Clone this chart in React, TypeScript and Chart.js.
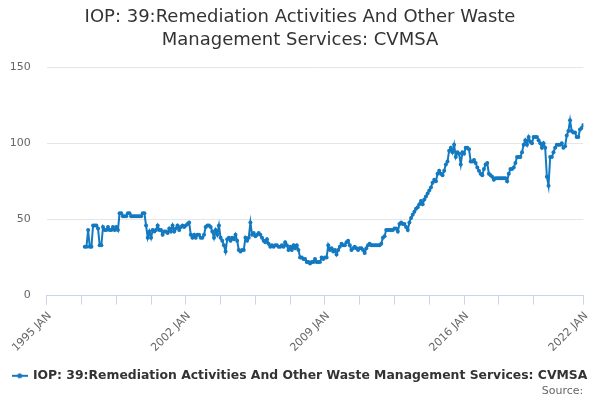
import { useEffect, useRef } from "react";
import { Chart, registerables } from "chart.js";

Chart.register(...registerables);

const TITLE_LINES = [
  "IOP: 39:Remediation Activities And Other Waste",
  "Management Services: CVMSA",
];
const SERIES_NAME =
  "IOP: 39:Remediation Activities And Other Waste Management Services: CVMSA";
const SOURCE_TEXT = "Source:";

// x axis is measured in months since 1995 JAN
const AXIS_START_YEAR = 1995;
const SERIES_START_YEAR = 1996;
const SERIES_START_MONTH = 12; // December

const X_TICK_MONTHS = [0, 21, 42, 63, 84, 105, 126, 147, 168, 189, 210, 231, 252, 273, 294, 324];
const X_TICK_LABELS = [
  "1995 JAN", "", "", "", "2002 JAN", "", "", "", "2009 JAN", "", "", "", "2016 JAN", "", "", "2022 JAN",
];
const Y_MIN = 0;
const Y_MAX = 150;
const Y_STEP = 50;

// monthly values
const v1996 = [32];
const v1997 = [32, 43, 32, 32, 46, 46, 46, 44, 33, 33, 45, 43];
const v1998 = [43, 45, 43, 43, 45, 43, 45, 43, 54, 54, 52, 52];
const v1999 = [52, 54, 54, 52, 52, 52, 52, 52, 52, 52, 54, 54];
const v2000 = [46, 38, 42, 38, 43, 42, 43, 46, 43, 43, 40, 42];
const v2001 = [42, 41, 44, 42, 46, 42, 44, 46, 43, 45, 46, 45];
const v2002 = [46, 47, 48, 40, 38, 40, 38, 40, 40, 38, 38, 40];
const v2003 = [45, 46, 46, 45, 42, 38, 43, 40, 46, 38, 36, 33];
const v2004 = [29, 37, 38, 36, 38, 37, 40, 36, 30, 29, 30, 30];
const v2005 = [38, 36, 38, 48, 40, 41, 39, 40, 41, 40, 38, 36];
const v2006 = [35, 37, 34, 32, 33, 32, 33, 33, 32, 32, 33, 32];
const v2007 = [35, 33, 30, 32, 30, 33, 31, 33, 30, 25, 25, 24];
const v2008 = [24, 22, 22, 21, 22, 22, 24, 22, 22, 22, 25, 24];
const v2009 = [25, 25, 33, 30, 31, 29, 30, 27, 30, 32, 34, 33];
const v2010 = [33, 35, 36, 33, 30, 31, 32, 31, 30, 31, 31, 30];
const v2011 = [28, 31, 33, 34, 33, 33, 33, 33, 33, 33, 34, 38];
const v2012 = [39, 43, 43, 43, 43, 43, 44, 44, 42, 47, 48, 47];
const v2013 = [47, 45, 43, 48, 51, 53, 55, 57, 58, 60, 62, 60];
const v2014 = [63, 65, 67, 69, 71, 74, 76, 75, 80, 82, 80, 79];
const v2015 = [82, 86, 88, 95, 97, 94, 99, 91, 94, 93, 86, 94];
const v2016 = [93, 97, 97, 96, 88, 88, 89, 87, 84, 82, 80, 79];
const v2017 = [83, 86, 87, 80, 79, 78, 76, 77, 77, 77, 77, 77];
const v2018 = [77, 77, 75, 80, 83, 83, 84, 87, 91, 91, 91, 94];
const v2019 = [99, 102, 99, 104, 101, 100, 104, 104, 104, 102, 100, 97];
const v2020 = [100, 97, 78, 72, 91, 91, 94, 97, 99, 99, 99, 100];
const v2021 = [97, 98, 105, 108, 115, 108, 107, 107, 104, 104, 109, 110];
const v2022 = [112];

const SERIES_VALUES = [
  ...v1996, ...v1997, ...v1998, ...v1999, ...v2000, ...v2001, ...v2002, ...v2003,
  ...v2004, ...v2005, ...v2006, ...v2007, ...v2008, ...v2009, ...v2010, ...v2011,
  ...v2012, ...v2013, ...v2014, ...v2015, ...v2016, ...v2017, ...v2018, ...v2019,
  ...v2020, ...v2021, ...v2022,
];

const LINE_COLOR = "#1379c1";
const FONT = "'DejaVu Sans', sans-serif";

export default function App() {
  const canvasRef = useRef<HTMLCanvasElement | null>(null);

  useEffect(() => {
    document.body.style.margin = "0";
    const canvas = canvasRef.current;
    if (!canvas) return;

    const firstIndex = (SERIES_START_YEAR - AXIS_START_YEAR) * 12 + (SERIES_START_MONTH - 1);
    const points = SERIES_VALUES.map((v, i) => ({ x: firstIndex + i, y: v }));

    const legendIcon = document.createElement("canvas");
    legendIcon.width = 16;
    legendIcon.height = 8;
    const ictx = legendIcon.getContext("2d");
    if (ictx) {
      ictx.strokeStyle = LINE_COLOR;
      ictx.lineWidth = 2;
      ictx.beginPath();
      ictx.moveTo(0, 4);
      ictx.lineTo(16, 4);
      ictx.stroke();
      ictx.fillStyle = LINE_COLOR;
      ictx.beginPath();
      ictx.arc(8, 4, 2.5, 0, Math.PI * 2);
      ictx.fill();
    }

    const chart = new Chart(canvas, {
      type: "line",
      data: {
        datasets: [
          {
            label: SERIES_NAME,
            data: points,
            borderColor: LINE_COLOR,
            backgroundColor: LINE_COLOR,
            borderWidth: 2,
            pointRadius: 2,
            pointBorderWidth: 0,
            pointBackgroundColor: LINE_COLOR,
            tension: 0,
            fill: false,
          },
        ],
      },
      options: {
        responsive: false,
        animation: false,
        events: [],
        layout: { padding: { left: 0, right: 0, top: 0, bottom: 0 } },
        plugins: {
          title: {
            display: true,
            text: TITLE_LINES,
            color: "#333333",
            font: { family: FONT, size: 18, weight: "normal", lineHeight: 23 / 18 },
            padding: { top: 5.5, bottom: 15.5 },
          },
          legend: {
            display: true,
            position: "bottom",
            align: "center",
            labels: {
              usePointStyle: true,
              pointStyle: legendIcon as any,
              pointStyleWidth: 14,
              color: "#333333",
              font: { family: FONT, size: 12.4, weight: "bold" },
              padding: 10,
            },
          },
          subtitle: {
            display: true,
            position: "bottom",
            align: "end",
            fullSize: false,
            text: SOURCE_TEXT,
            color: "#666666",
            font: { family: FONT, size: 11, weight: "normal", lineHeight: 1.2 },
            padding: { top: -7.6, bottom: 2.4 },
          },
          tooltip: { enabled: false },
        },
        scales: {
          x: {
            type: "linear",
            min: X_TICK_MONTHS[0],
            max: X_TICK_MONTHS[X_TICK_MONTHS.length - 1],
            afterBuildTicks: (axis: any) => {
              axis.ticks = X_TICK_MONTHS.map((value) => ({ value }));
            },
            afterFit: (axis: any) => {
              axis.height = 64;
            },
            grid: {
              display: true,
              drawOnChartArea: false,
              drawTicks: true,
              tickLength: 9,
              color: "#ccd6eb",
            },
            border: { display: true, color: "#ccd6eb", width: 1 },
            ticks: {
              autoSkip: false,
              minRotation: 45,
              maxRotation: 45,
              padding: 5,
              labelOffset: 3,
              color: "#666666",
              font: { family: FONT, size: 11 },
              callback: (_value: any, index: number) => X_TICK_LABELS[index] ?? "",
            },
          },
          y: {
            type: "linear",
            position: "left",
            min: Y_MIN,
            max: Y_MAX,
            afterFit: (axis: any) => {
              axis.width = 46.7;
            },
            grid: { color: "#e6e6e6", drawTicks: false, lineWidth: 1 },
            border: { display: false },
            ticks: {
              stepSize: Y_STEP,
              padding: 16,
              color: "#666666",
              font: { family: FONT, size: 11 },
            },
          },
          yRight: {
            type: "linear",
            position: "right",
            display: true,
            afterFit: (axis: any) => {
              axis.width = 16.7;
            },
            grid: { display: false, drawOnChartArea: false, drawTicks: false },
            border: { display: false },
            ticks: { display: false },
          },
        },
      } as any,
    });

    return () => {
      chart.destroy();
    };
  }, []);

  return (
    <div style={{ position: "absolute", left: 0, top: 0, width: 600, height: 400 }}>
      <canvas ref={canvasRef} width={600} height={400} style={{ width: 600, height: 400 }} />
    </div>
  );
}
